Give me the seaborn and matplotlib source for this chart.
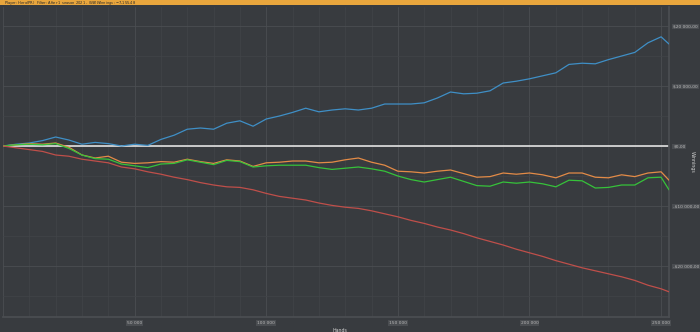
import numpy as np
import pandas as pd
import matplotlib
matplotlib.use("Agg")
import matplotlib.pyplot as plt
import seaborn as sns
from matplotlib.ticker import MultipleLocator, FuncFormatter
from matplotlib.patches import Rectangle

# Cumulative results sampled every 5 000 hands, last sample at the final hand
hands = [h for h in range(0, 255000, 5000)] + [253000]

net_won = [0, 300, 500, 900, 1500, 1000, 300, 600, 400, 0,
           300, 100, 1100, 1800, 2800, 3000, 2800, 3800, 4200, 3300,
           4500, 5000, 5600, 6300, 5700, 6000, 6200, 6000, 6300, 7000,
           7000, 7000, 7200, 8000, 9000, 8700, 8800, 9200, 10500, 10800,
           11200, 11700, 12200, 13600, 13800, 13700, 14400, 15000, 15600, 17200,
           18200, 17000]

showdown = [0, 200, 400, 300, 500, -200, -1500, -2000, -1700, -2700,
            -2900, -2800, -2600, -2700, -2200, -2600, -2900, -2300, -2500, -3400,
            -2800, -2700, -2500, -2500, -2800, -2700, -2300, -2000, -2700, -3200,
            -4200, -4300, -4500, -4200, -4000, -4600, -5200, -5100, -4500, -4700,
            -4500, -4800, -5300, -4500, -4500, -5200, -5300, -4800, -5100, -4500,
            -4300, -5700]

all_in_adj = [0, 200, 300, 200, 400, -400, -1500, -2100, -2200, -3000,
              -3300, -3600, -3000, -2900, -2300, -2700, -3100, -2400, -2600, -3500,
              -3300, -3200, -3200, -3200, -3600, -3900, -3700, -3500, -3800, -4200,
              -5000, -5600, -6000, -5600, -5200, -5900, -6600, -6700, -6000, -6200,
              -6000, -6300, -6800, -5700, -5800, -7000, -6900, -6500, -6500, -5300,
              -5200, -7300]

non_showdown = [0, -300, -600, -900, -1500, -1700, -2200, -2500, -2800, -3500,
                -3800, -4300, -4700, -5200, -5600, -6100, -6500, -6800, -6900, -7300,
                -7900, -8400, -8700, -9000, -9500, -9900, -10200, -10400, -10800, -11300,
                -11800, -12400, -12900, -13500, -14000, -14600, -15300, -15900, -16500, -17200,
                -17800, -18400, -19100, -19700, -20300, -20800, -21300, -21800, -22400, -23200,
                -23800, -24300]

series = {
    "Net won": net_won,
    "Showdown": showdown,
    "All-in adj": all_in_adj,
    "Non-showdown": non_showdown,
}
colors = {
    "Net won": "#3f8fc6",
    "Showdown": "#e38b47",
    "All-in adj": "#36c23a",
    "Non-showdown": "#bf4f4a",
}

df = pd.concat(
    [pd.DataFrame({"Hands": hands, "Winnings": v, "Line": k}) for k, v in series.items()],
    ignore_index=True,
)

bg = "#383b3f"
sns.set_theme(style="dark", rc={
    "figure.facecolor": bg,
    "axes.facecolor": bg,
    "axes.edgecolor": "#4a4d51",
    "savefig.facecolor": bg,
})
plt.rcParams["font.family"] = ["DejaVu Sans"]

fig = plt.figure(figsize=(7.0, 3.32), dpi=100)
ax = fig.add_axes([3 / 700, 1 - 317 / 332, 666 / 700, 310 / 332])

# Grid: faint minor lines, slightly brighter major lines
ax.xaxis.set_major_locator(MultipleLocator(50000))
ax.xaxis.set_minor_locator(MultipleLocator(10000))
ax.yaxis.set_major_locator(MultipleLocator(10000))
ax.yaxis.set_minor_locator(MultipleLocator(5000))
ax.grid(which="major", color="#4b4e52", linewidth=0.6)
ax.grid(which="minor", color="#414448", linewidth=0.5)
ax.set_axisbelow(True)

ax.axhline(0, color="#e2e2e2", linewidth=1.2, zorder=1)

sns.lineplot(data=df, x="Hands", y="Winnings", hue="Line", palette=colors,
             linewidth=0.9, legend=False, ax=ax, zorder=3)

ax.set_xlim(0, 253000)
ax.set_ylim(-28500, 23170)

ax.yaxis.tick_right()
ax.yaxis.set_label_position("right")


def money(v, _):
    if v == 0:
        return "$0,00"
    s = f"{abs(int(v)):,}".replace(",", " ")
    return ("-" if v < 0 else "") + "$" + s + ",00"


ax.yaxis.set_major_formatter(FuncFormatter(money))
ax.xaxis.set_major_formatter(FuncFormatter(lambda v, _: "" if v == 0 else f"{int(v):,}".replace(",", " ")))

ax.tick_params(axis="both", which="both", length=0, labelsize=3.2, colors="#b8b8b8", pad=3)
for lab in ax.get_xticklabels() + ax.get_yticklabels():
    lab.set_bbox(dict(facecolor="#4a4d51", edgecolor="none", pad=0.6))

for s in ("top", "left"):
    ax.spines[s].set_visible(False)
ax.spines["right"].set_color("#4b4e52")
ax.spines["bottom"].set_color("#4b4e52")

ax.set_xlabel("Hands", fontsize=3.4, color="#d0d0d0", labelpad=4)
ax.xaxis.set_label_coords(337 / 666, -0.035)
ax.set_ylabel("Winnings", fontsize=3.4, color="#d0d0d0", rotation=270, labelpad=10)
ax.yaxis.set_label_coords(1 + 26 / 666, 0.5)

# Header strip
fig.patches.append(Rectangle((0, 1 - 5 / 332), 1, 5 / 332, transform=fig.transFigure,
                             facecolor="#e9a63d", edgecolor="none", zorder=10))
fig.text(4 / 700, 1 - 2.6 / 332, "Player: Hero(PR)  Filter: After 1 season 2021 - ($NB)  Winnings: -$7,155.48",
         fontsize=2.6, color="#2a2a2a", va="center", ha="left", zorder=11)

fig.savefig("out.png", dpi=100)
